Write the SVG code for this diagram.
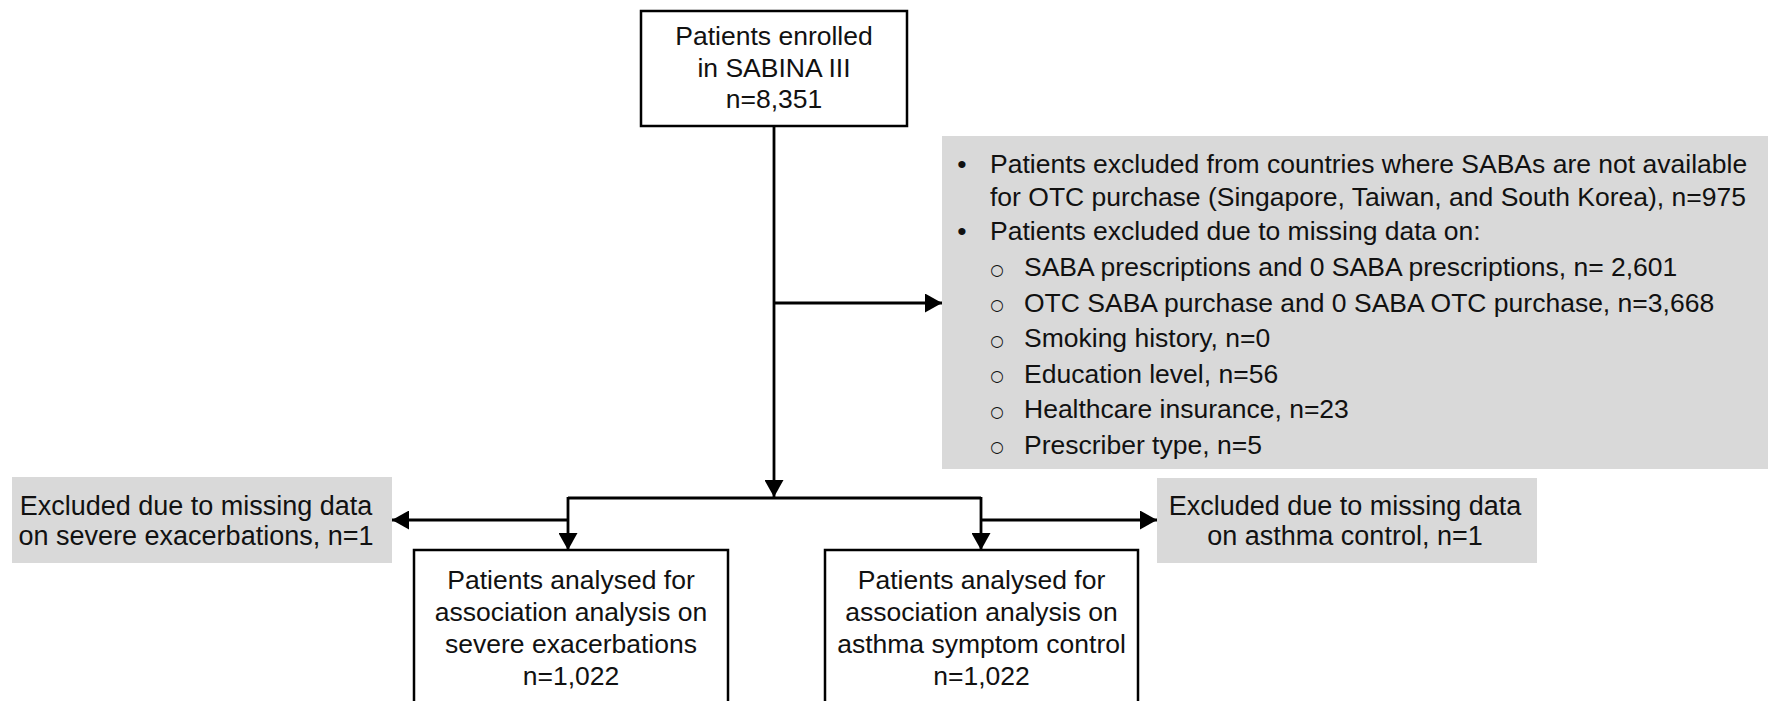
<svg xmlns="http://www.w3.org/2000/svg" width="1777" height="701" viewBox="0 0 1777 701">
<style>
text{font-family:"Liberation Sans",Arial,sans-serif;font-size:26.5px;fill:#111}
.c{text-anchor:middle}
.ex{font-size:27px}
.box{fill:#fff;stroke:#000;stroke-width:2.5}
.gray{fill:#d9d9d9;stroke:none}
.ln{fill:none;stroke:#000;stroke-width:2.8}
.dot{font-size:26.5px}
.circ{font-family:"DejaVu Sans",sans-serif;font-size:15.5px}
</style>
<defs>
<marker id="ah" viewBox="0 0 17 19" refX="17" refY="9.5" markerWidth="17" markerHeight="19" markerUnits="userSpaceOnUse" orient="auto">
<path d="M0,0 L17,9.5 L0,19 Z" fill="#000"/>
</marker>
</defs>
<rect width="1777" height="701" fill="#fff"/>
<g id="connectors">
<path class="ln" d="M774,126 V497" marker-end="url(#ah)"/>
<path class="ln" d="M774,303 H942" marker-end="url(#ah)"/>
<path class="ln" d="M568,498 H981"/>
<path class="ln" d="M568,497 V550" marker-end="url(#ah)"/>
<path class="ln" d="M981,497 V550" marker-end="url(#ah)"/>
<path class="ln" d="M568,520 H392" marker-end="url(#ah)"/>
<path class="ln" d="M981,520 H1157" marker-end="url(#ah)"/>
</g>
<g id="enrolled">
<rect class="box" x="641" y="11" width="266" height="115"/>
<text class="c" x="774" y="45">Patients enrolled</text>
<text class="c" x="774" y="77">in SABINA III</text>
<text class="c" x="774" y="108">n=8,351</text>
</g>
<g id="excluded-main">
<rect class="gray" x="942" y="136" width="826" height="333"/>
<text class="dot c" x="962" y="172.5">•</text>
<text x="990" y="172.5">Patients excluded from countries where SABAs are not available</text>
<text x="990" y="205.5">for OTC purchase (Singapore, Taiwan, and South Korea), n=975</text>
<text class="dot c" x="962" y="240">•</text>
<text x="990" y="240">Patients excluded due to missing data on:</text>
<text class="circ c" x="997" y="274.5">○</text>
<text x="1024" y="276">SABA prescriptions and 0 SABA prescriptions, n= 2,601</text>
<text class="circ c" x="997" y="310">○</text>
<text x="1024" y="311.5">OTC SABA purchase and 0 SABA OTC purchase, n=3,668</text>
<text class="circ c" x="997" y="345.5">○</text>
<text x="1024" y="347">Smoking history, n=0</text>
<text class="circ c" x="997" y="381">○</text>
<text x="1024" y="382.5">Education level, n=56</text>
<text class="circ c" x="997" y="416.5">○</text>
<text x="1024" y="418">Healthcare insurance, n=23</text>
<text class="circ c" x="997" y="452">○</text>
<text x="1024" y="453.5">Prescriber type, n=5</text>
</g>
<g id="excluded-exacerbations">
<rect class="gray" x="12" y="477" width="380" height="86"/>
<text class="c ex" x="196" y="515">Excluded due to missing data</text>
<text class="c ex" x="196" y="545">on severe exacerbations, n=1</text>
</g>
<g id="excluded-control">
<rect class="gray" x="1157" y="478" width="380" height="85"/>
<text class="c ex" x="1345" y="515">Excluded due to missing data</text>
<text class="c ex" x="1345" y="545">on asthma control, n=1</text>
</g>
<g id="analysed-exacerbations">
<rect class="box" x="414" y="550" width="314" height="160"/>
<text class="c" x="571" y="589">Patients analysed for</text>
<text class="c" x="571" y="621">association analysis on</text>
<text class="c" x="571" y="653">severe exacerbations</text>
<text class="c" x="571" y="685">n=1,022</text>
</g>
<g id="analysed-control">
<rect class="box" x="825" y="550" width="313" height="160"/>
<text class="c" x="981.5" y="589">Patients analysed for</text>
<text class="c" x="981.5" y="621">association analysis on</text>
<text class="c" x="981.5" y="653">asthma symptom control</text>
<text class="c" x="981.5" y="685">n=1,022</text>
</g>
</svg>
